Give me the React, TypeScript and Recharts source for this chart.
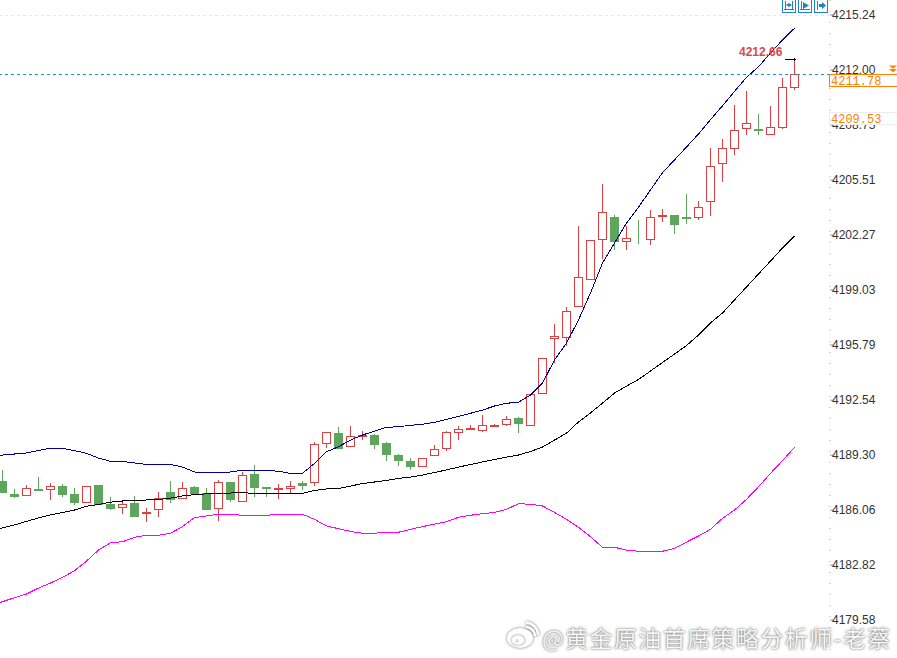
import React from "react";
import { ComposedChart, Bar, Line, XAxis, YAxis, ReferenceLine } from "recharts";

const W = 897;
const H = 658;
const UP = "#DC4040";
const DOWN = "#5EA65E";

const opens = [
  4187.78, 4187.01, 4186.97, 4187.31, 4187.29, 4187.49, 4187.01, 4186.52, 4187.54, 4186.42,
  4186.22, 4186.48, 4185.91, 4186.11, 4187.13, 4186.76, 4187.42, 4187.05, 4186.17, 4187.72,
  4186.59, 4188.19, 4187.43, 4187.33, 4187.39, 4187.64, 4187.70, 4190.00, 4190.61, 4189.82,
  4190.46, 4190.49, 4190.02, 4189.31, 4188.96, 4188.64, 4189.29, 4189.74, 4190.64, 4190.82,
  4190.80, 4191.00, 4191.15, 4191.49, 4191.06, 4192.95, 4196.22, 4196.25, 4198.07, 4199.66,
  4202.05, 4203.34, 4201.91, 4202.23, 4202.05, 4203.40, 4203.43, 4203.35, 4203.35, 4204.26,
  4206.50, 4207.39, 4208.56, 4208.50, 4208.21, 4208.66, 4211.00,
];
const highs = [
  4188.49, 4187.37, 4187.60, 4188.07, 4187.72, 4187.64, 4187.41, 4187.54, 4187.60, 4186.90,
  4186.72, 4186.96, 4186.25, 4187.19, 4187.84, 4187.78, 4187.56, 4187.42, 4187.88, 4187.78,
  4188.38, 4188.78, 4187.49, 4187.64, 4187.84, 4187.84, 4190.13, 4190.72, 4191.02, 4191.08,
  4190.77, 4190.59, 4190.13, 4189.43, 4189.19, 4189.17, 4189.96, 4190.76, 4191.08, 4191.14,
  4191.73, 4191.20, 4191.67, 4191.61, 4192.95, 4195.08, 4197.07, 4198.09, 4202.86, 4202.04,
  4205.33, 4203.51, 4202.86, 4203.22, 4203.80, 4203.86, 4203.49, 4204.75, 4204.31, 4207.47,
  4208.00, 4210.00, 4210.82, 4209.45, 4209.94, 4211.59, 4212.66,
];
const lows = [
  4187.15, 4186.84, 4186.97, 4187.27, 4186.74, 4186.91, 4186.44, 4186.52, 4186.44, 4186.13,
  4185.91, 4185.73, 4185.44, 4185.73, 4186.56, 4186.76, 4187.09, 4186.14, 4185.50, 4186.60,
  4186.59, 4186.91, 4186.91, 4186.79, 4187.15, 4187.31, 4187.56, 4189.80, 4189.74, 4189.82,
  4190.23, 4189.74, 4189.03, 4188.74, 4188.50, 4188.64, 4189.29, 4189.62, 4190.27, 4190.82,
  4190.74, 4191.00, 4191.08, 4190.67, 4191.06, 4192.95, 4194.81, 4195.79, 4198.07, 4199.66,
  4200.94, 4201.47, 4201.47, 4201.80, 4201.77, 4203.11, 4202.42, 4202.97, 4203.20, 4203.47,
  4205.46, 4207.05, 4208.24, 4208.24, 4208.21, 4208.60, 4210.90,
];
const closes = [
  4187.15, 4186.90, 4187.35, 4187.27, 4187.47, 4187.03, 4186.56, 4187.47, 4186.44, 4186.20,
  4186.40, 4185.73, 4185.95, 4186.79, 4186.74, 4187.35, 4187.09, 4186.14, 4187.70, 4186.74,
  4188.11, 4187.44, 4187.39, 4187.37, 4187.47, 4187.56, 4189.94, 4190.64, 4189.74, 4190.41,
  4190.50, 4189.97, 4189.39, 4189.03, 4188.68, 4189.11, 4189.65, 4190.64, 4190.82, 4190.88,
  4191.06, 4191.06, 4191.41, 4191.21, 4192.90, 4195.01, 4196.32, 4197.78, 4199.78, 4201.96,
  4203.62, 4201.94, 4202.09, 4202.19, 4203.32, 4203.48, 4202.92, 4203.27, 4203.94, 4206.33,
  4207.39, 4208.45, 4208.85, 4208.46, 4208.62, 4210.98, 4211.78,
];
// Band values start one bar left of the first candle so that the lines reach the edge.
const upperBand = [
  4189.27, 4189.31, 4189.37, 4189.43, 4189.58, 4189.71, 4189.71, 4189.57, 4189.41, 4189.13,
  4188.94, 4188.94, 4188.84, 4188.76, 4188.76, 4188.76, 4188.60, 4188.31, 4188.29, 4188.29,
  4188.31, 4188.41, 4188.41, 4188.41, 4188.35, 4188.23, 4188.23, 4188.82, 4189.50, 4189.80,
  4190.19, 4190.49, 4190.72, 4190.94, 4190.98, 4191.06, 4191.12, 4191.24, 4191.41, 4191.59,
  4191.77, 4191.96, 4192.20, 4192.36, 4192.42, 4192.85, 4193.55, 4194.91, 4195.91, 4197.27,
  4198.86, 4200.62, 4201.80, 4202.98, 4203.92, 4204.93, 4205.95, 4206.70, 4207.46, 4208.23,
  4209.07, 4209.89, 4210.74, 4211.57, 4212.19, 4213.00, 4213.77, 4214.46,
];
const middleBand = [
  4184.85, 4185.01, 4185.19, 4185.40, 4185.60, 4185.78, 4185.92, 4186.07, 4186.29, 4186.40,
  4186.53, 4186.60, 4186.63, 4186.66, 4186.69, 4186.77, 4186.90, 4186.98, 4187.02, 4187.03,
  4187.07, 4187.10, 4187.04, 4187.04, 4187.04, 4187.04, 4187.05, 4187.22, 4187.31, 4187.34,
  4187.48, 4187.63, 4187.72, 4187.81, 4187.93, 4188.01, 4188.13, 4188.28, 4188.43, 4188.60,
  4188.75, 4188.90, 4189.05, 4189.19, 4189.31, 4189.52, 4189.78, 4190.19, 4190.60, 4191.26,
  4191.79, 4192.37, 4192.96, 4193.37, 4193.76, 4194.26, 4194.76, 4195.26, 4195.76, 4196.38,
  4197.09, 4197.68, 4198.45, 4199.21, 4199.98, 4200.74, 4201.51, 4202.22,
];
const lowerBand = [
  4180.41, 4180.67, 4180.90, 4181.12, 4181.47, 4181.77, 4182.10, 4182.49, 4183.06, 4183.71,
  4184.14, 4184.20, 4184.46, 4184.58, 4184.58, 4184.70, 4185.09, 4185.62, 4185.72, 4185.82,
  4185.82, 4185.76, 4185.76, 4185.76, 4185.82, 4185.82, 4185.82, 4185.52, 4185.13, 4184.97,
  4184.81, 4184.70, 4184.70, 4184.76, 4184.76, 4184.93, 4185.09, 4185.24, 4185.38, 4185.64,
  4185.76, 4185.85, 4185.93, 4186.11, 4186.44, 4186.41, 4186.31, 4185.93, 4185.52, 4185.05,
  4184.50, 4183.87, 4183.87, 4183.71, 4183.64, 4183.64, 4183.64, 4183.81, 4184.18, 4184.54,
  4184.93, 4185.58, 4186.07, 4186.70, 4187.44, 4188.23, 4188.98, 4189.76,
];
const priceTicks = [
  4215.24, 4212.0, 4208.75, 4205.51, 4202.27, 4199.03, 4195.79, 4192.54, 4189.3, 4186.06, 4182.82, 4179.58,
];
const lastPrice = "4211.78";
const lastPriceLevel = 4211.76;
const otherPrice = "4209.53";
const highLabel = "4212.66";
const watermark = "@黄金原油首席策略分析师-老蔡";

const rows = upperBand.map((u, n) => {
  const i = n - 1;
  const has = i >= 0;
  return {
    i,
    upper: u,
    middle: middleBand[n],
    lower: lowerBand[n],
    o: has ? opens[i] : null,
    h: has ? highs[i] : null,
    l: has ? lows[i] : null,
    c: has ? closes[i] : null,
    range: has ? [lows[i], highs[i]] : null,
  };
});

function Candle(props: any) {
  const { x, y, width, height, payload } = props;
  if (payload == null || payload.h == null || !(height > 0)) return null;
  const { o, h, l, c } = payload;
  const k = height / (h - l);
  const cx = Math.floor(x + width / 2) + 0.5;
  const py = (v: number) => Math.round(y + (h - v) * k) + 0.5;
  const isUp = c >= o;
  const color = isUp ? UP : DOWN;
  const top = py(Math.max(o, c));
  const bot = py(Math.min(o, c));
  return (
    <g shapeRendering="crispEdges">
      <line x1={cx} x2={cx} y1={py(h)} y2={py(l)} stroke={color} strokeWidth={1} />
      <rect
        x={cx - 4}
        y={top}
        width={8}
        height={Math.max(bot - top, 0)}
        fill={isUp ? "#fff" : color}
        stroke={color}
        strokeWidth={1}
      />
    </g>
  );
}

function Overlay() {
  const icon = "#1C84C9";
  return (
    <svg width={W} height={H} style={{ position: "absolute", left: 0, top: 0, pointerEvents: "none" }}>
      {/* toolbar buttons */}
      <g fill="none" stroke={icon} strokeWidth={1} shapeRendering="crispEdges">
        <rect x={782.5} y={-2} width={13} height={14} fill="#fff" />
        <rect x={798.5} y={-2} width={13} height={14} fill="#fff" />
        <rect x={814.5} y={-2} width={13} height={14} fill="#fff" />
        <path d="M785.5 1V10M792.5 1V10M784 9.5H794" />
        <path d="M801.5 1V10M800 9.5H810" />
        <path d="M817.5 1V10" />
      </g>
      <g fill={icon}>
        <path d="M786 5 L789 3 V7 Z M792 5 L789 3 V7 Z" />
        <path d="M803 2 L809 5.5 L803 9 Z" />
        <path d="M819 4H822V2L826 5.5L822 9V7H819Z" />
      </g>
      {/* high marker */}
      <g stroke="#000" strokeWidth={1} shapeRendering="crispEdges">
        <line x1={785} x2={796} y1={59.5} y2={59.5} />
        <line x1={794.5} x2={794.5} y1={58} y2={61} />
      </g>
      <text
        x={739}
        y={56}
        fontFamily="'Liberation Sans', Arial, sans-serif"
        fontSize={12}
        fontWeight={700}
        fill="#D84A4A"
      >
        {highLabel}
      </text>
      {/* price tags */}
      <rect x={829.5} y={74.5} width={70} height={12} fill="#fff" stroke="#FF8000" strokeWidth={1} shapeRendering="crispEdges" />
      <text x={831} y={85} fontFamily="'Liberation Mono', monospace" fontSize={12} fill="#FF8000">
        {lastPrice}
      </text>
      <rect x={829.5} y={112.5} width={70} height={12} fill="#fff" stroke="#E6EEF2" strokeWidth={1} shapeRendering="crispEdges" />
      <text x={831} y={123} fontFamily="'Liberation Mono', monospace" fontSize={12} fill="#FF8000">
        {otherPrice}
      </text>
      <g fill="#FF8A00">
        <path d="M889 65.5H897L893 69Z" />
        <path d="M889 69H897L893 72.5Z" />
      </g>
      {/* watermark logo */}
      <g style={{ filter: "drop-shadow(0 0 1.5px rgba(0,0,0,0.55))" }}>
        <ellipse cx={520} cy={638} rx={13} ry={10} fill="#fff" />
        <ellipse cx={518} cy={640} rx={7} ry={5.5} fill="none" stroke="#ddd" strokeWidth={2} />
        <circle cx={517} cy={641} r={2} fill="#ddd" />
        <path d="M526 627 A9 9 0 0 1 535 636" fill="none" stroke="#fff" strokeWidth={2.5} />
        <path d="M526 622.5 A13 13 0 0 1 538 635" fill="none" stroke="#fff" strokeWidth={2.5} />
      </g>
    </svg>
  );
}

export default function App() {
  return (
    <div style={{ position: "absolute", left: 0, top: 0, width: W, height: H, overflow: "hidden", background: "#fff" }}>
      <ComposedChart
        width={W}
        height={H}
        data={rows}
        margin={{ top: 0, right: 0, bottom: 0, left: 0 }}
        barCategoryGap={0}
      >
        <XAxis type="number" dataKey="i" hide domain={[-0.20833, 68.95833]} allowDataOverflow />
        <YAxis
          orientation="right"
          width={67}
          domain={[4177.349, 4216.124]}
          allowDataOverflow
          ticks={priceTicks}
          interval={0}
          tickFormatter={(v: number) => v.toFixed(2)}
          tick={{ fontFamily: "'Liberation Sans', Arial, sans-serif", fontSize: 12, fill: "#333", textAnchor: "start" }}
          tickSize={3}
          tickMargin={-1}
          tickLine={{ stroke: "#999" }}
          axisLine={{ stroke: "#aaa", strokeDasharray: "1 10" }}
        />
        <ReferenceLine y={4215.24} stroke="#e6e6e6" strokeDasharray="3 3" shapeRendering="crispEdges" />
        <Bar dataKey="range" barSize={10} shape={(p: any) => <Candle {...p} />} isAnimationActive={false} />
        <Line dataKey="lower" stroke="#FF00FF" strokeWidth={1} dot={false} activeDot={false} isAnimationActive={false} shapeRendering="crispEdges" />
        <Line dataKey="middle" stroke="#000000" strokeWidth={1} dot={false} activeDot={false} isAnimationActive={false} shapeRendering="crispEdges" />
        <Line dataKey="upper" stroke="#000099" strokeWidth={1} dot={false} activeDot={false} isAnimationActive={false} shapeRendering="crispEdges" />
        <ReferenceLine y={lastPriceLevel} stroke="#1E8FE8" strokeDasharray="3 3" shapeRendering="crispEdges" />
      </ComposedChart>
      <Overlay />
      <div
        style={{
          position: "absolute",
          left: 542,
          top: 622,
          fontFamily: "'Noto Sans CJK SC', sans-serif",
          fontSize: 23,
          letterSpacing: 1.4,
          lineHeight: "30px",
          whiteSpace: "nowrap",
          color: "#f6f6f6",
          textShadow: "0 0 3px rgba(0,0,0,0.55), 0 0 1px rgba(0,0,0,0.35)",
        }}
      >
        {watermark}
      </div>
    </div>
  );
}
